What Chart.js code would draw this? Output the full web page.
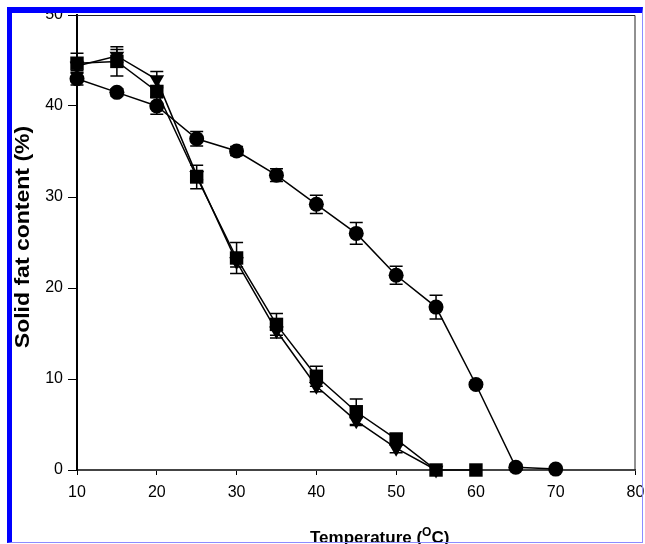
<!DOCTYPE html>
<html>
<head>
<meta charset="utf-8">
<script src="https://cdn.jsdelivr.net/npm/chart.js@4.4.1/dist/chart.umd.min.js"></script>
<style>
  html, body { margin: 0; padding: 0; background: #fff; }
  #wrap { position: relative; width: 645px; height: 544px; overflow: hidden; }
  #sfc { position: absolute; left: 0; top: 0; }
  #frame {
    position: absolute; left: 7px; top: 7px; width: 636px; height: 536px;
    border-left: 5px solid #0000ff; border-top: 6px solid #0000ff;
    border-right: 1px solid #8c8cff; border-bottom: 1px solid #8c8cff;
    box-sizing: border-box; pointer-events: none;
  }
</style>
</head>
<body>
<div id="wrap">
  <canvas id="sfc" width="645" height="544"></canvas>
  <div id="frame"></div>
</div>
<script>
// Temperatures (°C) and solid fat content (%)
const temps = [10, 15, 20, 25, 30, 35, 40, 45, 50, 55, 60, 65, 70];

const circleSfc = [43.0, 41.5, 40.0, 36.4, 35.05, 32.4, 29.2, 26.0, 21.4, 17.9, 9.4, 0.3, 0.1];
const circleErr = [0.7, 0.4, 0.9, 0.8, 0.5, 0.7, 1.0, 1.2, 1.0, 1.3, 0.3, 0.3, 0];

const squareSfc = [44.7, 44.9, 41.6, 32.2, 23.3, 16.0, 10.3, 6.4, 3.4, 0, 0];
const squareErr = [1.1, 1.6, 0.6, 1.3, 1.7, 1.2, 1.1, 1.4, 0.6, 0, 0];

const triangleSfc = [44.4, 45.5, 42.9, 32.4, 22.9, 15.3, 9.2, 5.4, 2.4, 0];
const triangleErr = [0.5, 0.7, 0.9, 0.5, 0.6, 0.8, 0.6, 0.5, 0.5, 0];

const xTicks = [10, 20, 30, 40, 50, 60, 70, 80];
const yTicks = [0, 10, 20, 30, 40, 50];

const FONT = "'Liberation Sans', Arial, sans-serif";

function toPoints(values, errs) {
  return values.map((v, i) => ({ x: temps[i], y: v, err: errs[i] }));
}

// error bars, top/right frame and the axis titles
const extras = {
  id: 'extras',
  beforeDatasetsDraw(chart) {
    const ctx = chart.ctx;
    const area = chart.chartArea;
    const ys = chart.scales.y;
    ctx.save();
    ctx.strokeStyle = '#222';
    ctx.lineWidth = 1;
    ctx.beginPath();
    ctx.moveTo(area.left, area.top + 0.5);
    ctx.lineTo(area.right - 0.5, area.top + 0.5);
    ctx.lineTo(area.right - 0.5, area.bottom);
    ctx.stroke();

    ctx.strokeStyle = '#000';
    ctx.lineWidth = 1.5;
    chart.data.datasets.forEach((ds, di) => {
      const meta = chart.getDatasetMeta(di);
      meta.data.forEach((pt, i) => {
        const p = ds.data[i];
        if (!p.err) return;
        const top = ys.getPixelForValue(p.y + p.err);
        const bot = ys.getPixelForValue(p.y - p.err);
        ctx.beginPath();
        ctx.moveTo(pt.x, top);
        ctx.lineTo(pt.x, bot);
        ctx.moveTo(pt.x - 6.5, top);
        ctx.lineTo(pt.x + 6.5, top);
        ctx.moveTo(pt.x - 6.5, bot);
        ctx.lineTo(pt.x + 6.5, bot);
        ctx.stroke();
      });
    });
    ctx.restore();
  },
  afterDraw(chart) {
    const ctx = chart.ctx;
    ctx.save();
    ctx.fillStyle = '#000';

    // x title with superscript O
    ctx.textBaseline = 'alphabetic';
    ctx.textAlign = 'left';
    let x = 310;
    const base = 543;
    ctx.font = 'bold 17px ' + FONT;
    ctx.fillText('Temperature (', x, base);
    x += ctx.measureText('Temperature (').width;
    ctx.font = 'bold 12px ' + FONT;
    ctx.fillText('O', x, base - 7);
    x += ctx.measureText('O').width;
    ctx.font = 'bold 17px ' + FONT;
    ctx.fillText('C)', x, base);

    // y title, a bit stretched along its length like the original
    ctx.translate(23.5, 237);
    ctx.rotate(-Math.PI / 2);
    ctx.scale(1.15, 1);
    ctx.textAlign = 'center';
    ctx.textBaseline = 'middle';
    ctx.font = 'bold 20px ' + FONT;
    ctx.fillText('Solid fat content (%)', 0, 0);
    ctx.restore();
  }
};

const ctx = document.getElementById('sfc').getContext('2d');

new Chart(ctx, {
  type: 'line',
  data: {
    datasets: [
      {
        label: 'square',
        data: toPoints(squareSfc, squareErr),
        borderColor: '#000',
        backgroundColor: '#000',
        borderWidth: 1.5,
        pointStyle: 'rect',
        pointRadius: 9.5,
        pointBorderWidth: 0
      },
      {
        label: 'triangle',
        data: toPoints(triangleSfc, triangleErr),
        borderColor: '#000',
        backgroundColor: '#000',
        borderWidth: 1.5,
        pointStyle: 'triangle',
        rotation: 180,
        pointRadius: 8.5,
        pointBorderWidth: 0
      },
      {
        label: 'circle',
        data: toPoints(circleSfc, circleErr),
        borderColor: '#000',
        backgroundColor: '#000',
        borderWidth: 1.5,
        pointStyle: 'circle',
        pointRadius: 7.5,
        pointBorderWidth: 0
      }
    ]
  },
  options: {
    responsive: false,
    animation: false,
    devicePixelRatio: 1,
    clip: false,
    layout: { padding: { top: 15, right: 4, left: 0, bottom: 0 } },
    plugins: {
      legend: { display: false },
      tooltip: { enabled: false }
    },
    scales: {
      x: {
        type: 'linear',
        min: 10,
        max: 80,
        afterBuildTicks: (scale) => { scale.ticks = xTicks.map(v => ({ value: v })); },
        afterFit: (scale) => {
          scale.height = 74;
          scale.paddingLeft = 0;
          scale.paddingRight = 0;
        },
        border: { color: '#444', width: 2 },
        grid: { drawOnChartArea: false, color: '#000', tickLength: 5 },
        ticks: { color: '#000', padding: 8, font: { family: FONT, size: 16 } }
      },
      y: {
        min: 0,
        max: 50,
        afterBuildTicks: (scale) => { scale.ticks = yTicks.map(v => ({ value: v })); },
        afterFit: (scale) => {
          scale.width = 77;
          scale.paddingTop = 0;
          scale.paddingBottom = 0;
        },
        border: { color: '#000', width: 2 },
        grid: { drawOnChartArea: false, color: '#000', tickLength: 9 },
        ticks: { color: '#000', padding: 5, font: { family: FONT, size: 16 } }
      }
    }
  },
  plugins: [extras]
});
</script>
</body>
</html>
